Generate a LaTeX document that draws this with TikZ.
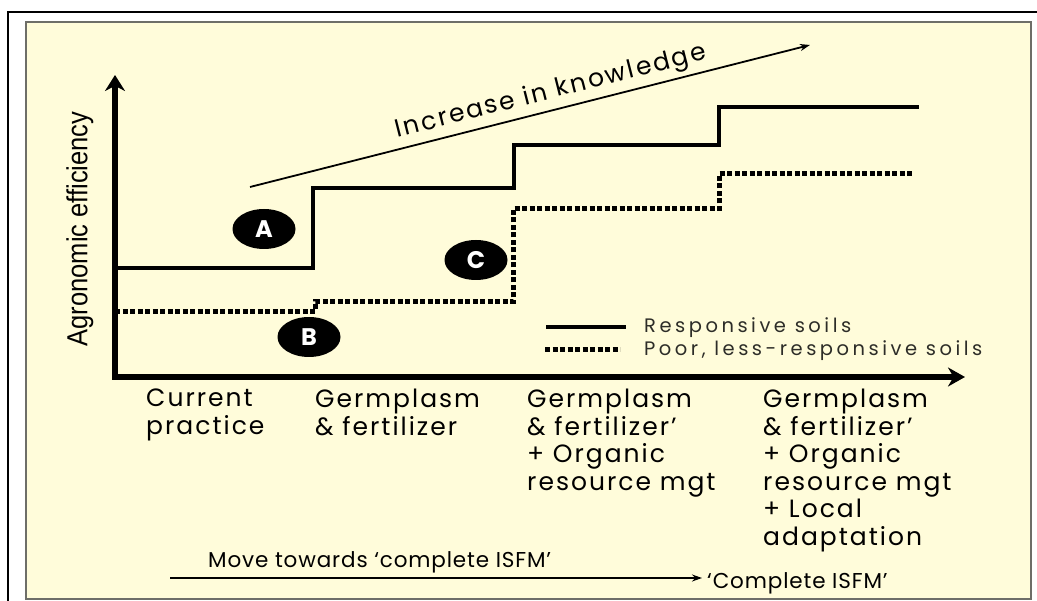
\documentclass[tikz,border=0pt]{standalone}
\usepackage{fontspec}
\usepackage{graphicx}
\setmainfont{Poppins}
\newfontfamily\narrowfont{Liberation Sans}
\usetikzlibrary{arrows.meta,shapes.geometric}
\definecolor{cream}{RGB}{255,252,218}
\definecolor{framegray}{RGB}{110,110,104}
\definecolor{legendgray}{RGB}{45,45,40}
\tikzset{
	axis/.style={line width=6.5pt, {Stealth[length=16pt,width=20pt]}-{Stealth[length=17pt,width=19pt]}},
	resp/.style={line width=4pt},
	poor/.style={line width=5pt, dash pattern=on 5pt off 2.5pt},
	badge/.style={ellipse, fill=black, text=white, minimum width=63pt, minimum height=40pt, inner sep=0pt, font=\fontsize{24}{24}\selectfont\bfseries},
	collabel/.style={anchor=north west, align=left, inner sep=0pt, font=\fontsize{25}{27.5}\selectfont\addfontfeatures{LetterSpace=8}},
	legtext/.style={anchor=base west, inner sep=0pt, text=legendgray, font=\fontsize{19.5}{19.5}\selectfont\addfontfeatures{LetterSpace=18}},
	isfmtext/.style={anchor=base west, inner sep=0pt, font=\fontsize{21.5}{21.5}\selectfont\addfontfeatures{LetterSpace=4}},
	thinarrow/.style={line width=1.8pt, -{Stealth[length=10pt,width=7pt]}}
}
\begin{document}
\begin{tikzpicture}[x=1pt, y=-1pt]
		\useasboundingbox (0,0) rectangle (1037,601);
		\fill[white] (0,0) rectangle (1037,601);
		\draw[line width=1.5pt] (1037,12) -- (8,12) -- (8,601);
		\filldraw[fill=cream, draw=framegray, line width=2pt] (26,22) rectangle (1031,599);

		\coordinate (ytip) at (115,75);
		\coordinate (xtip) at (965,377);
		\draw[axis] (ytip) |- (xtip);
		\node[rotate=90, inner sep=0pt] (ylabel) at (80,229) {\narrowfont\fontsize{29}{29}\selectfont\scalebox{0.88}[1]{Agronomic efficiency}};

		\draw[resp] (115,268) -- (313,268) -- (313,188) -- (514,188) -- (514,145) -- (719,145) -- (719,107) -- (919,107);
		\draw[poor] (115,312) -- (315,312) -- (315,302) -- (513,302) -- (513,209) -- (719,209) -- (719,174) -- (912,174);

		\coordinate (kstart) at (250,187);
		\coordinate (kend) at (810,45);
		\draw[thinarrow] (kstart) -- (kend) node[pos=0.545, sloped, above=4pt, inner sep=0pt, font=\fontsize{25}{25}\selectfont\addfontfeatures{LetterSpace=9}] (know) {Increase in knowledge};

		\node[badge] (A) at (264,229) {A};
		\node[badge] (B) at (309,337) {B};
		\node[badge] (C) at (476,260) {C};

		\draw[resp] (546,327) -- (626,327);
		\draw[poor] (545,350) -- (620,350);
		\node[legtext] (legresp) at (644,333) {Responsive soils};
		\node[legtext] (legpoor) at (644,356) {Poor, less-responsive soils};

		\foreach \x/\name/\txt in {146/cur/{Current\\practice}, 315/germ/{Germplasm\\\& fertilizer}, 527/org/{Germplasm\\\& fertilizer’\\+ Organic\\resource mgt}, 763/loc/{Germplasm\\\& fertilizer’\\+ Organic\\resource mgt\\+ Local\\adaptation}} {
			\node[collabel] (\name) at (\x,389) {\txt};
		}

		\node[isfmtext] (move) at (208,568) {Move towards ‘complete ISFM’};
		\node[isfmtext] (full) at (707,588) {‘Complete ISFM’};
		\coordinate (mstart) at (170,578);
		\coordinate (mend) at (702,578);
		\draw[thinarrow] (mstart) -- (mend);
	\end{tikzpicture}
\end{document}
